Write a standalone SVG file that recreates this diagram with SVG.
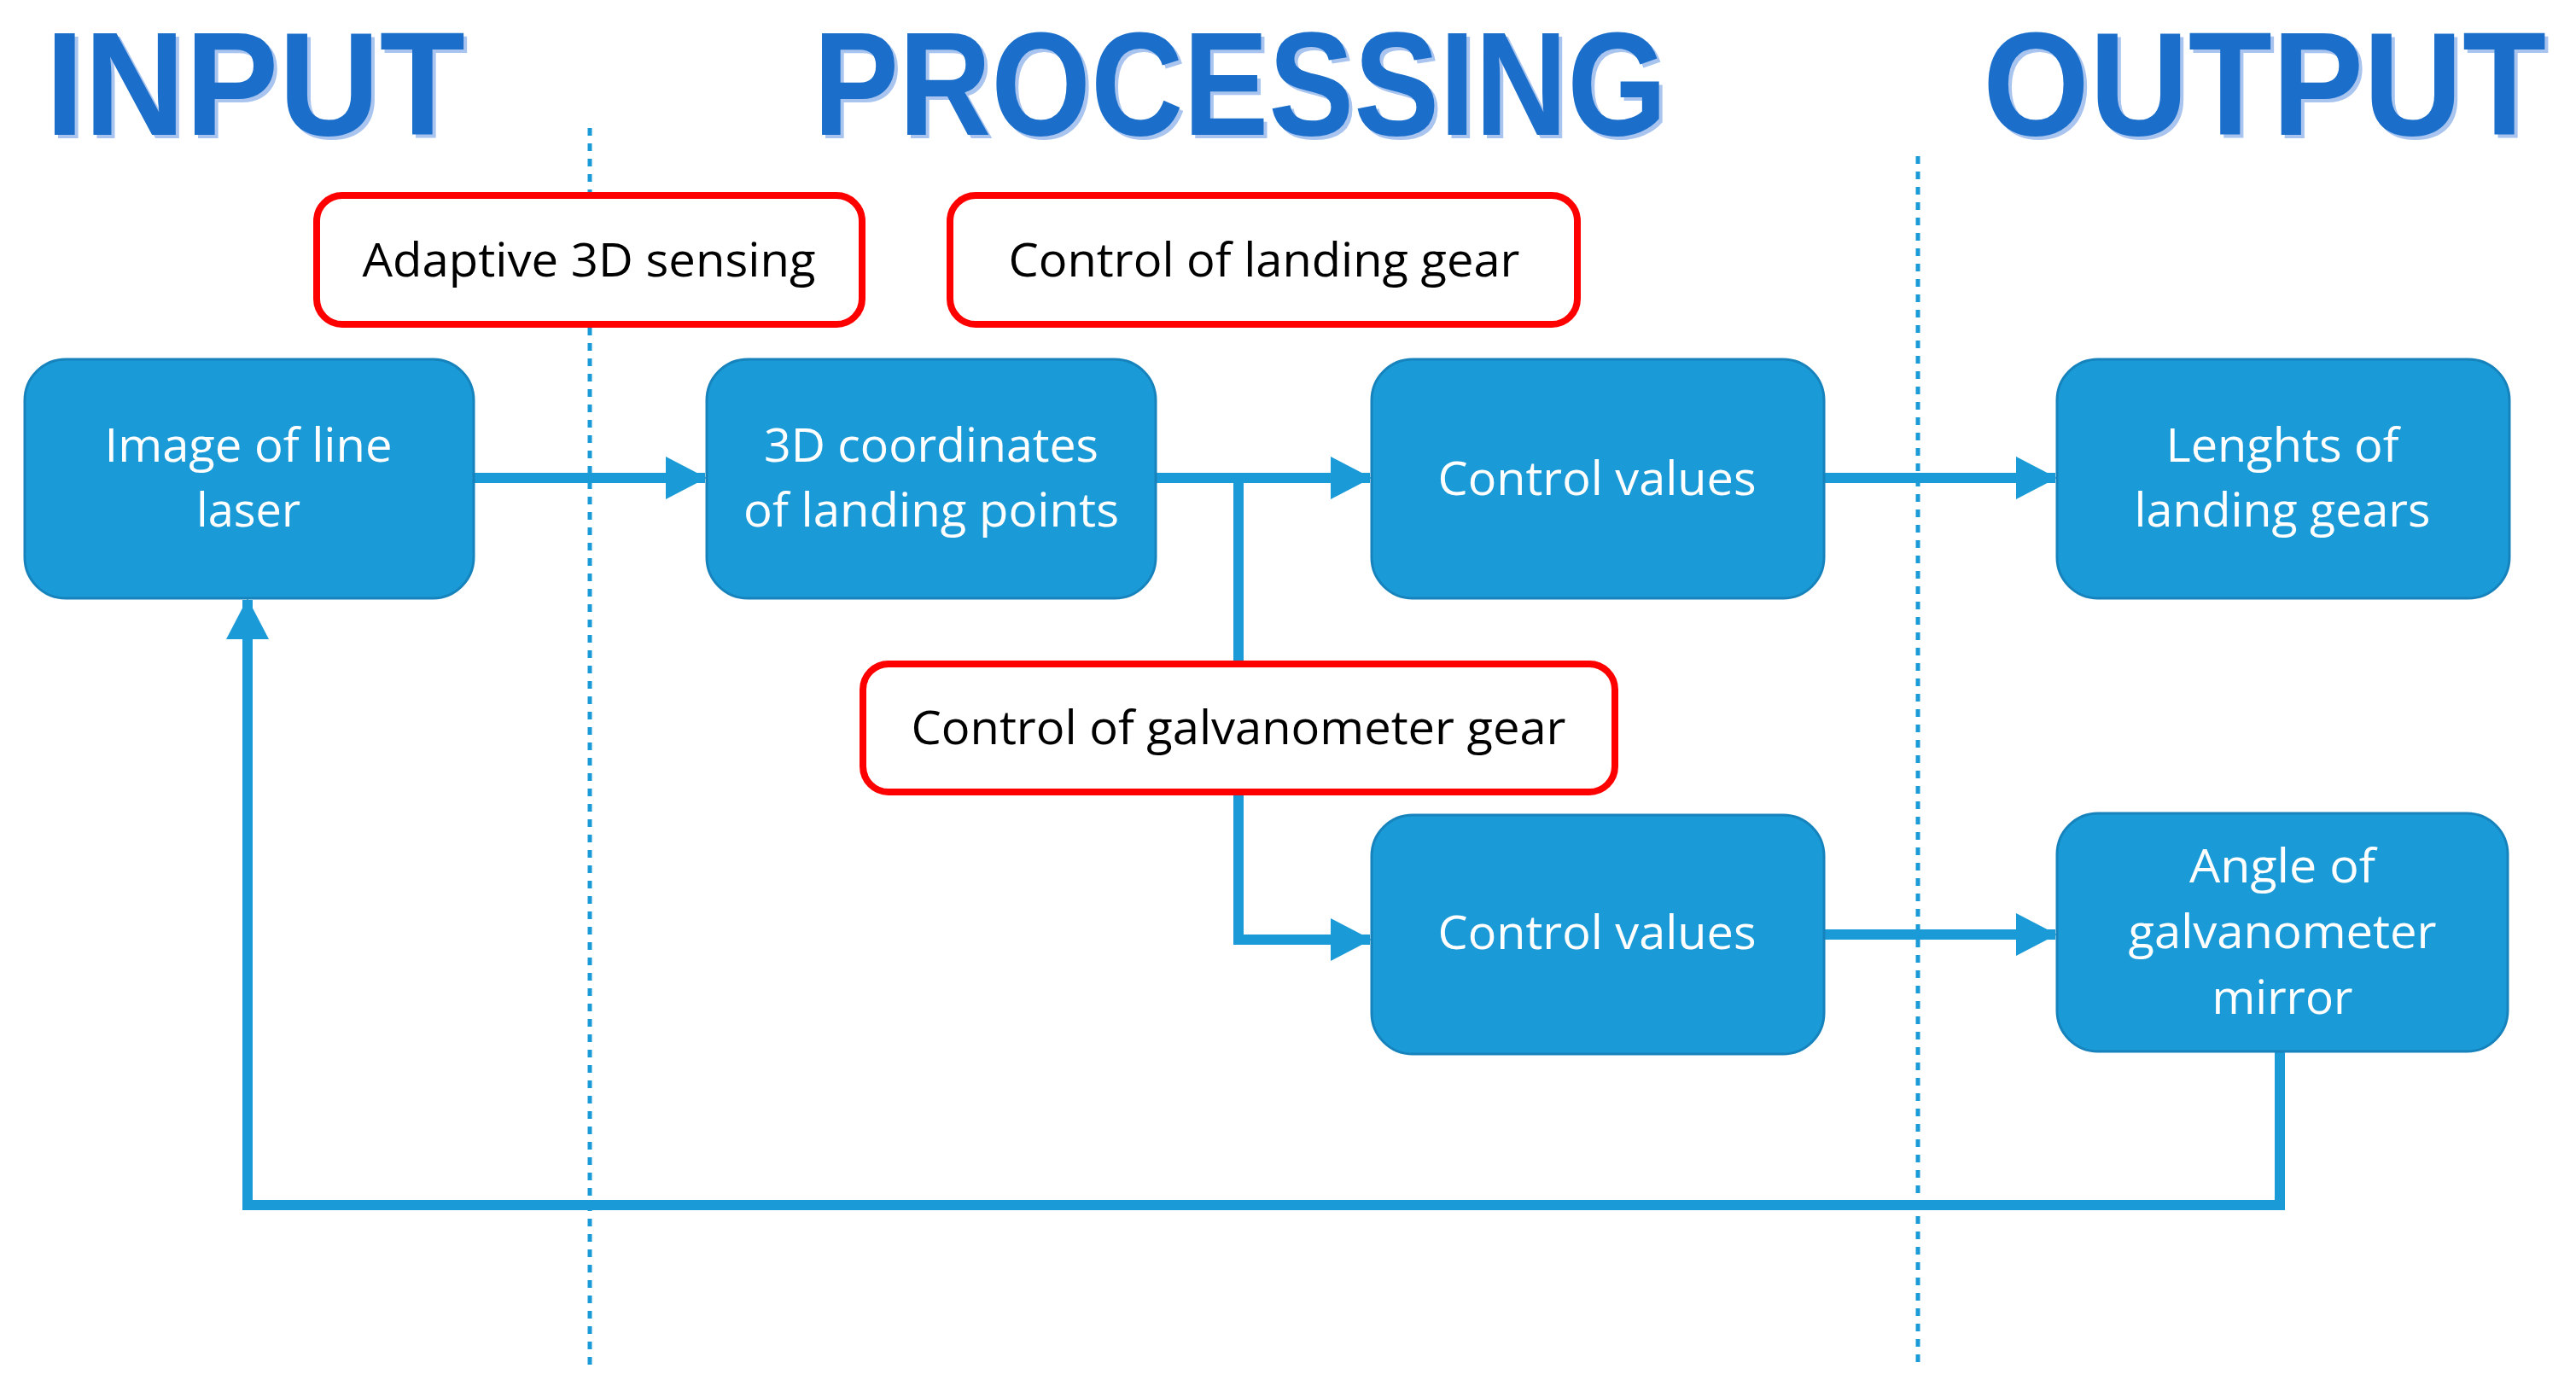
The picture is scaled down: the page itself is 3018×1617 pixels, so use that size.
<svg xmlns="http://www.w3.org/2000/svg" width="3018" height="1617" viewBox="0 0 3018 1617">
<style>
.h{font-family:"Liberation Sans",Arial,sans-serif;font-weight:bold;font-size:172px}
.hs{fill:#a9c5ef}
.hm{fill:#1b6fcb}
.box{fill:#1a9bd7;stroke:#1683bd;stroke-width:3}
.bt{font-family:"Open Sans","Liberation Sans",sans-serif;font-size:54px;fill:#fff;text-anchor:middle}
.rb{fill:#fff;stroke:#f00;stroke-width:8}
.rt{font-family:"Open Sans","Liberation Sans",sans-serif;font-size:54px;fill:#000;text-anchor:middle}
.c{fill:none;stroke:#1a9bd7;stroke-width:12}
.dot{stroke:#1a9bd7;stroke-width:5;stroke-dasharray:9 9}
</style>
<defs>
<marker id="ah" markerUnits="userSpaceOnUse" markerWidth="48" markerHeight="50" refX="46" refY="25" orient="auto">
<path d="M0,0 L48,25 L0,50 Z" fill="#1a9bd7"/>
</marker>
</defs>
<rect width="3018" height="1617" fill="#fff"/>
<g id="headings">
<text class="h hs" x="57" y="162" textLength="492" lengthAdjust="spacingAndGlyphs">INPUT</text>
<text class="h hm" x="53" y="158" textLength="492" lengthAdjust="spacingAndGlyphs">INPUT</text>
<text class="h hs" x="957" y="162" textLength="1000" lengthAdjust="spacingAndGlyphs">PROCESSING</text>
<text class="h hm" x="953" y="158" textLength="1000" lengthAdjust="spacingAndGlyphs">PROCESSING</text>
<text class="h hs" x="2327" y="162" textLength="660" lengthAdjust="spacingAndGlyphs">OUTPUT</text>
<text class="h hm" x="2323" y="158" textLength="660" lengthAdjust="spacingAndGlyphs">OUTPUT</text>
</g>
<g id="dividers">
<line class="dot" x1="691" y1="150" x2="691" y2="1600"/>
<line class="dot" x1="2247" y1="183" x2="2247" y2="1600"/>
</g>
<g id="connectors">
<line class="c" x1="555" y1="560" x2="826" y2="560" marker-end="url(#ah)"/>
<line class="c" x1="1354" y1="560" x2="1605" y2="560" marker-end="url(#ah)"/>
<polyline class="c" points="1451,560 1451,1101 1605,1101" marker-end="url(#ah)"/>
<line class="c" x1="2137" y1="560" x2="2408" y2="560" marker-end="url(#ah)"/>
<line class="c" x1="2137" y1="1095" x2="2408" y2="1095" marker-end="url(#ah)"/>
<polyline class="c" points="2671,1232 2671,1412 290,1412 290,703" marker-end="url(#ah)"/>
</g>
<g id="n-adaptive"><rect class="rb" x="371" y="229" width="639" height="151" rx="30"/><text class="rt" x="690" y="324" textLength="531" lengthAdjust="spacingAndGlyphs">Adaptive 3D sensing</text></g>
<g id="n-landing-ctrl"><rect class="rb" x="1113" y="229" width="735" height="151" rx="30"/><text class="rt" x="1481" y="324" textLength="599" lengthAdjust="spacingAndGlyphs">Control of landing gear</text></g>
<g id="n-galvo-ctrl"><rect class="rb" x="1011" y="778" width="881" height="150" rx="30"/><text class="rt" x="1451" y="872" textLength="767" lengthAdjust="spacingAndGlyphs">Control of galvanometer gear</text></g>
<g id="n-image"><rect class="box" x="29" y="421" width="526" height="280" rx="48"/>
<text class="bt" x="291" y="541" textLength="337" lengthAdjust="spacingAndGlyphs">Image of line</text>
<text class="bt" x="291" y="617" textLength="122" lengthAdjust="spacingAndGlyphs">laser</text></g>
<g id="n-coords"><rect class="box" x="828" y="421" width="526" height="280" rx="48"/>
<text class="bt" x="1091" y="541" textLength="392" lengthAdjust="spacingAndGlyphs">3D coordinates</text>
<text class="bt" x="1091" y="617" textLength="440" lengthAdjust="spacingAndGlyphs">of landing points</text></g>
<g id="n-cv1"><rect class="box" x="1607" y="421" width="530" height="280" rx="48"/>
<text class="bt" x="1871" y="580" textLength="373" lengthAdjust="spacingAndGlyphs">Control values</text></g>
<g id="n-lengths"><rect class="box" x="2410" y="421" width="530" height="280" rx="48"/>
<text class="bt" x="2674" y="541" textLength="273" lengthAdjust="spacingAndGlyphs">Lenghts of</text>
<text class="bt" x="2674" y="617" textLength="347" lengthAdjust="spacingAndGlyphs">landing gears</text></g>
<g id="n-cv2"><rect class="box" x="1607" y="955" width="530" height="280" rx="48"/>
<text class="bt" x="1871" y="1112" textLength="373" lengthAdjust="spacingAndGlyphs">Control values</text></g>
<g id="n-angle"><rect class="box" x="2410" y="953" width="528" height="279" rx="48"/>
<text class="bt" x="2674" y="1034" textLength="218" lengthAdjust="spacingAndGlyphs">Angle of</text>
<text class="bt" x="2674" y="1111" textLength="361" lengthAdjust="spacingAndGlyphs">galvanometer</text>
<text class="bt" x="2674" y="1188" textLength="165" lengthAdjust="spacingAndGlyphs">mirror</text></g>
</svg>
